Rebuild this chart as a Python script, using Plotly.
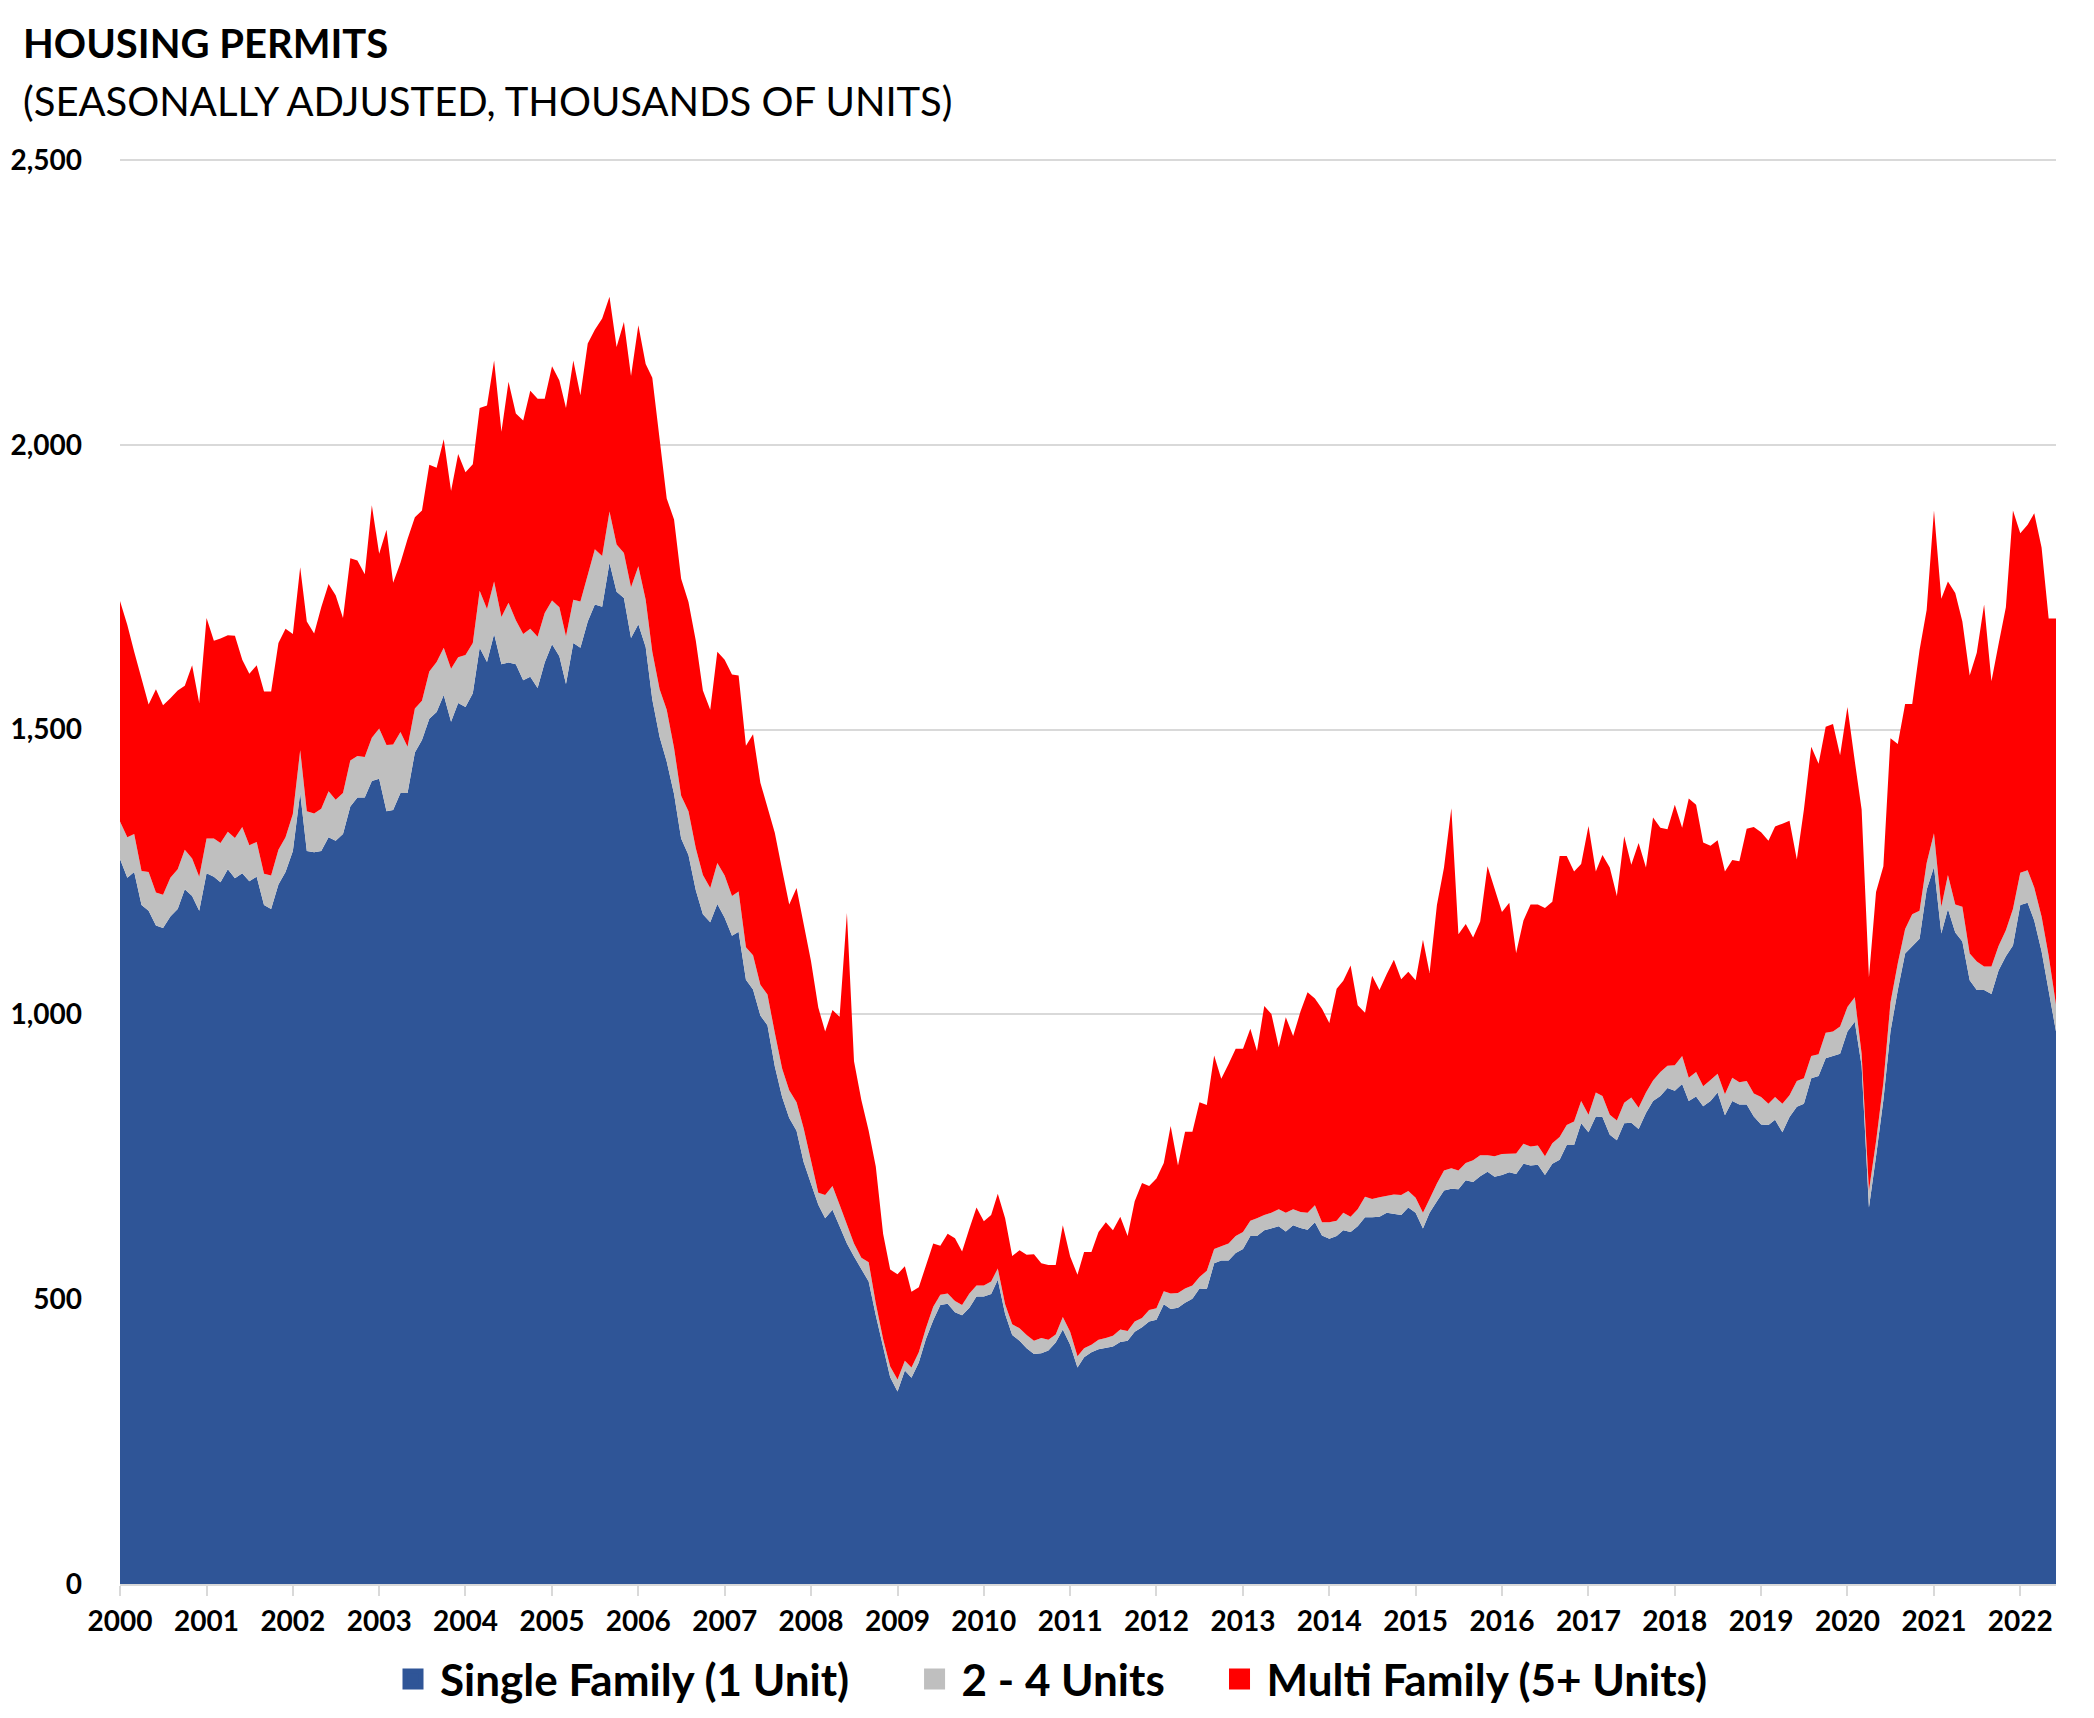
import pandas as pd
import plotly.graph_objects as go

# Monthly observations, Jan 2000 - Jun 2022
months = pd.date_range("2000-01-01", "2022-06-01", freq="MS")

# Top edge of the Single Family (1 unit) area, thousands of units (SAAR)
single_family_top = [
    1273, 1240, 1250, 1192, 1182, 1156, 1152, 1172, 1185, 1220, 1208, 1182,  # 2000
    1248, 1242, 1232, 1255, 1239, 1248, 1234, 1242, 1192, 1185, 1228, 1250,  # 2001
    1287, 1389, 1287, 1285, 1287, 1311, 1305, 1317, 1365, 1381, 1381, 1410,  # 2002
    1414, 1357, 1359, 1389, 1389, 1460, 1482, 1519, 1531, 1561, 1514, 1547,  # 2003
    1540, 1564, 1644, 1619, 1668, 1615, 1618, 1615, 1587, 1593, 1573, 1618,  # 2004
    1650, 1629, 1580, 1652, 1644, 1690, 1720, 1716, 1793, 1742, 1731, 1661,  # 2005
    1685, 1645, 1553, 1487, 1444, 1387, 1309, 1280, 1218, 1176, 1162, 1194,  # 2006
    1170, 1138, 1145, 1061, 1044, 998, 981, 909, 855, 818, 796, 741,         # 2007
    703, 666, 642, 657, 628, 598, 575, 552, 531, 472, 418, 363,              # 2008
    338, 375, 362, 389, 430, 463, 490, 492, 477, 472, 485, 505,              # 2009
    505, 509, 534, 474, 437, 427, 414, 404, 405, 410, 424, 447,              # 2010
    420, 380, 398, 407, 412, 414, 417, 425, 427, 443, 451, 461,              # 2011
    464, 491, 483, 485, 494, 501, 519, 518, 563, 568, 568, 581,              # 2012
    588, 611, 611, 621, 625, 628, 619, 630, 625, 622, 635, 612,              # 2013
    606, 611, 621, 618, 628, 644, 644, 645, 652, 650, 648, 661,              # 2014
    652, 624, 652, 672, 691, 694, 693, 709, 706, 716, 724, 715,              # 2015
    718, 723, 720, 738, 735, 736, 718, 738, 745, 771, 771, 809,              # 2016
    793, 821, 820, 789, 779, 809, 810, 799, 827, 848, 857, 871,              # 2017
    866, 878, 848, 856, 839, 848, 863, 823, 848, 842, 842, 821,              # 2018
    807, 806, 815, 793, 820, 838, 843, 888, 892, 923, 927, 931,              # 2019
    970, 987, 910, 661, 751, 850, 970, 1043, 1107, 1120, 1133, 1219,         # 2020
    1259, 1142, 1185, 1144, 1128, 1060, 1043, 1043, 1036, 1077, 1102, 1121,  # 2021
    1192, 1196, 1165, 1111, 1043, 970,                                       # 2022
]

# Top edge of the 2 - 4 Units area (stacked on single family)
two_to_four_top = [
    1339, 1311, 1317, 1252, 1250, 1214, 1210, 1240, 1255, 1289, 1274, 1242,  # 2000
    1309, 1309, 1301, 1321, 1310, 1329, 1297, 1303, 1247, 1244, 1289, 1311,  # 2001
    1352, 1464, 1357, 1353, 1361, 1392, 1377, 1389, 1446, 1454, 1452, 1486,  # 2002
    1502, 1473, 1474, 1496, 1470, 1537, 1551, 1602, 1619, 1644, 1607, 1627,  # 2003
    1631, 1652, 1744, 1712, 1760, 1698, 1723, 1692, 1668, 1677, 1663, 1705,  # 2004
    1727, 1715, 1664, 1728, 1725, 1771, 1817, 1805, 1883, 1825, 1810, 1750,  # 2005
    1787, 1728, 1637, 1571, 1535, 1468, 1384, 1357, 1292, 1245, 1222, 1266,  # 2006
    1244, 1208, 1216, 1118, 1104, 1052, 1035, 968, 905, 867, 846, 800,       # 2007
    745, 687, 683, 699, 666, 632, 598, 573, 565, 493, 430, 382,              # 2008
    359, 392, 380, 407, 449, 487, 508, 510, 497, 490, 510, 524,              # 2009
    524, 531, 554, 491, 456, 449, 437, 427, 432, 429, 438, 469,              # 2010
    443, 400, 414, 420, 429, 432, 436, 447, 444, 461, 467, 481,              # 2011
    484, 514, 510, 511, 519, 524, 539, 550, 588, 593, 598, 611,              # 2012
    618, 638, 642, 648, 652, 658, 652, 658, 653, 652, 665, 635,              # 2013
    635, 638, 652, 645, 658, 680, 676, 679, 682, 684, 683, 690,              # 2014
    678, 652, 676, 703, 726, 730, 726, 739, 744, 753, 753, 751,              # 2015
    755, 756, 756, 773, 768, 770, 751, 774, 785, 806, 812, 848,              # 2016
    824, 863, 857, 824, 814, 845, 854, 836, 863, 884, 899, 910,              # 2017
    911, 927, 889, 899, 874, 885, 896, 860, 889, 881, 883, 861,              # 2018
    855, 843, 855, 843, 858, 883, 888, 927, 930, 968, 970, 979,              # 2019
    1013, 1030, 931, 691, 777, 880, 1021, 1090, 1150, 1176, 1182, 1266,      # 2020
    1318, 1189, 1245, 1193, 1189, 1107, 1093, 1084, 1084, 1120, 1148, 1185,  # 2021
    1249, 1253, 1223, 1172, 1103, 1017,                                      # 2022
]

# Top edge of the Multi Family (5+ units) area = total permits
total_permits = [
    1726, 1684, 1637, 1591, 1544, 1571, 1543, 1555, 1569, 1577, 1613, 1547,  # 2000
    1696, 1656, 1660, 1666, 1665, 1623, 1598, 1613, 1567, 1567, 1652, 1677,  # 2001
    1668, 1785, 1690, 1669, 1715, 1756, 1736, 1696, 1801, 1797, 1773, 1894,  # 2002
    1809, 1851, 1758, 1793, 1835, 1873, 1885, 1965, 1960, 2010, 1919, 1984,  # 2003
    1952, 1966, 2065, 2069, 2148, 2023, 2111, 2055, 2043, 2095, 2081, 2081,  # 2004
    2138, 2113, 2065, 2148, 2087, 2178, 2202, 2222, 2260, 2172, 2216, 2121,  # 2005
    2210, 2142, 2118, 2010, 1906, 1869, 1765, 1724, 1656, 1569, 1535, 1637,  # 2006
    1623, 1597, 1595, 1472, 1492, 1407, 1363, 1319, 1254, 1193, 1222, 1157,  # 2007
    1094, 1012, 970, 1008, 996, 1178, 918, 850, 796, 733, 615, 552,          # 2008
    544, 558, 513, 521, 558, 598, 594, 615, 607, 584, 624, 661,              # 2009
    637, 648, 685, 642, 576, 586, 578, 579, 563, 560, 560, 630,              # 2010
    575, 543, 583, 583, 618, 635, 621, 645, 611, 672, 704, 699,              # 2011
    712, 739, 804, 735, 794, 794, 846, 841, 928, 887, 913, 940,              # 2012
    940, 975, 936, 1015, 1001, 943, 995, 962, 1005, 1039, 1028, 1010,        # 2013
    985, 1045, 1059, 1086, 1016, 1003, 1068, 1043, 1071, 1096, 1062, 1075,   # 2014
    1060, 1131, 1073, 1192, 1258, 1362, 1141, 1159, 1135, 1163, 1260, 1219,  # 2015
    1180, 1196, 1108, 1165, 1193, 1193, 1187, 1198, 1278, 1278, 1251, 1264,  # 2016
    1331, 1251, 1280, 1258, 1208, 1313, 1263, 1301, 1258, 1346, 1328, 1325,  # 2017
    1368, 1328, 1379, 1368, 1302, 1296, 1306, 1251, 1271, 1269, 1326, 1329,  # 2018
    1320, 1305, 1330, 1335, 1340, 1272, 1360, 1470, 1440, 1505, 1510, 1455,  # 2019
    1540, 1445, 1360, 1065, 1215, 1260, 1485, 1475, 1545, 1545, 1640, 1710,  # 2020
    1885, 1730, 1760, 1740, 1690, 1595, 1635, 1720, 1585, 1650, 1715, 1885,  # 2021
    1845, 1860, 1880, 1820, 1695, 1695,                                      # 2022
]

assert len(months) == len(single_family_top) == len(two_to_four_top) == len(total_permits)

# Series values (band thickness of each stacked area)
single_family = list(single_family_top)
two_to_four = [u - s for u, s in zip(two_to_four_top, single_family_top)]
multi_family = [t - u for t, u in zip(total_permits, two_to_four_top)]

series_names = ["Single Family (1 Unit)", "2 - 4 Units", "Multi Family (5+ Units)"]
series_colors = ["#2F5597", "#BFBFBF", "#FF0000"]
series_values = [single_family, two_to_four, multi_family]

y_ticks = [0, 500, 1000, 1500, 2000, 2500]

FONT = "Lato"
NBSP = "\u00a0"

fig = go.Figure()
for name, color, vals in zip(series_names, series_colors, series_values):
    fig.add_trace(go.Scatter(
        x=months, y=vals, name=name, mode="lines",
        stackgroup="one", line=dict(width=0, color=color),
        fillcolor=color, showlegend=False,
        hovertemplate="%{x|%b %Y}: %{y:,.0f}<extra>" + name + "</extra>",
    ))

# legend entries with square swatches (trailing spaces widen the gap between entries)
legend_pad = [NBSP * 5, NBSP * 4, ""]
for name, color, pad in zip(series_names, series_colors, legend_pad):
    fig.add_trace(go.Scatter(
        x=[None], y=[None], mode="markers", name=name + pad,
        marker=dict(symbol="square", size=16, color=color,
                    line=dict(width=5, color=color)),
        showlegend=True,
    ))

W, H = 2094, 1718
L, R, T, B = 112, 46, 151, 142
pw, ph = W - L - R, H - T - B

def px_x(px):
    return (px - L) / pw

def px_y(py):
    return (H - B - py) / ph

fig.update_layout(
    width=W, height=H,
    margin=dict(l=L, r=R, t=T, b=B, autoexpand=False),
    paper_bgcolor="white", plot_bgcolor="white",
    font=dict(family=FONT, color="black"),
    showlegend=True,
    legend=dict(
        orientation="h", traceorder="normal",
        x=px_x(378), xanchor="left",
        y=px_y(1636), yanchor="top",
        font=dict(family=FONT, size=44, weight="bold", color="black"),
        itemsizing="trace", itemwidth=44, bgcolor="rgba(0,0,0,0)",
    ),
    xaxis=dict(
        type="date",
        range=["2000-01-01", "2022-06-01"],
        tick0="2000-01-01", dtick="M12", tickformat="%Y",
        showgrid=False, zeroline=False,
        showline=True, linecolor="#D9D9D9", linewidth=1.5,
        ticks="outside", ticklen=10, tickcolor="#D9D9D9", tickwidth=1.5,
        tickfont=dict(family=FONT, size=28, weight="bold", color="black"),
        ticklabelstandoff=2,
        automargin=False,
    ),
    yaxis=dict(
        range=[0, 2502], tickvals=y_ticks, tickformat=",",
        showgrid=True, gridcolor="#D9D9D9", gridwidth=1.5,
        zeroline=False, showline=False, ticks="",
        tickfont=dict(family=FONT, size=28, weight="bold", color="black"),
        ticklabelstandoff=37,
        automargin=False,
    ),
    annotations=[
        dict(text="<b>HOUSING PERMITS</b>", xref="paper", yref="paper",
             x=px_x(13), y=px_y(35), xanchor="left", yanchor="middle",
             showarrow=False, font=dict(family=FONT, size=40, color="black")),
        dict(text="(SEASONALLY ADJUSTED, THOUSANDS OF UNITS)", xref="paper", yref="paper",
             x=px_x(13), y=px_y(93), xanchor="left", yanchor="middle",
             showarrow=False, font=dict(family=FONT, size=40, color="black")),
    ],
)

fig.write_html("out.html")
